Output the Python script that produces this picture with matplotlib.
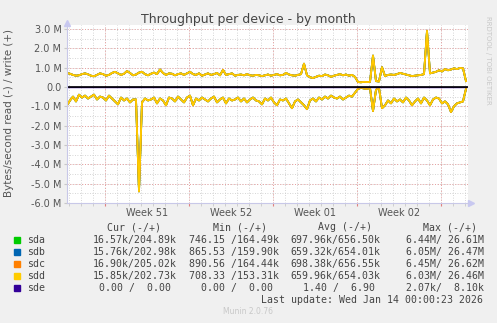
import numpy as np
import matplotlib
matplotlib.use("Agg")
from matplotlib import pyplot as plt
from matplotlib.patches import Rectangle

W, H = 497, 323

# samples every 6 hours (values in MB/s)
write_mb = [
    0.72, 0.68, 0.62, 0.58,  0.60, 0.66, 0.70, 0.65,  0.58, 0.55, 0.62, 0.70,
    0.66, 0.58, 0.62, 0.72,  0.78, 0.70, 0.62, 0.68,  0.82, 0.72, 0.60, 0.64,
    0.74, 0.78, 0.66, 0.60,  0.68, 0.74, 0.66, 0.90,  0.72, 0.62, 0.70, 0.68,
    0.60, 0.66, 0.70, 0.62,  0.70, 0.78, 0.66, 0.62,  0.70, 0.58, 0.64, 0.70,
    0.62, 0.66, 0.72, 0.60,  0.88, 0.62, 0.66, 0.70,  0.58, 0.62, 0.64, 0.60,
    0.66, 0.60, 0.58, 0.62,  0.60, 0.56, 0.60, 0.64,  0.58, 0.62, 0.66, 0.60,
    0.62, 0.72, 0.64, 0.60,  0.58, 0.62, 0.66, 1.20,  0.60, 0.50, 0.46, 0.52,
    0.58, 0.56, 0.64, 0.60,  0.52, 0.58, 0.62, 0.66,  0.60, 0.64, 0.58, 0.62,
    0.52, 0.25, 0.24, 0.26,  0.25, 0.26, 1.62, 0.30,  0.28, 1.02, 0.56, 0.62,
    0.64, 0.62, 0.66, 0.72,  0.68, 0.64, 0.60, 0.56,  0.58, 0.60, 0.62, 0.66,
    2.90, 0.70, 0.74, 0.78,  0.86, 0.80, 0.92, 0.86,  0.90, 0.96, 0.92, 0.98,
    0.96, 0.30,
]
read_mb = [
    -0.95, -0.70, -0.50, -0.75,  -0.40, -0.55, -0.45, -0.60,  -0.50, -0.40, -0.65, -0.50,
    -0.55, -0.70, -0.45, -0.60,  -0.75, -0.90, -0.55, -0.70,  -0.60, -0.80, -0.65, -0.65,
    -5.40, -0.80, -0.60, -0.70,  -0.65, -0.55, -0.85, -0.60,  -0.70, -0.95, -0.55, -0.60,
    -0.75, -0.50, -0.65, -0.80,  -0.55, -0.45, -0.95, -0.60,  -0.70, -0.55, -0.65, -0.75,
    -0.60, -0.50, -0.80, -0.65,  -0.55, -0.85, -0.60, -0.70,  -0.65, -0.55, -0.75, -0.60,
    -0.80, -0.65, -0.55, -0.70,  -0.75, -0.90, -0.60, -0.70,  -0.55, -0.80, -0.95, -0.65,
    -0.70, -0.60, -0.85, -1.10,  -0.75, -0.65, -0.80, -0.95,  -1.15, -0.70, -0.60, -0.75,
    -0.55, -0.65, -0.50, -0.60,  -0.45, -0.55, -0.60, -0.50,  -0.65, -0.55, -0.45, -0.50,
    -0.30, -0.10, -0.05, -0.08,  -0.10, -0.05, -1.25, -0.15,  -0.05, -1.10, -0.95, -0.70,
    -0.85, -0.60, -0.75, -0.65,  -0.80, -0.55, -0.70, -0.95,  -0.75, -0.60, -0.85, -0.55,
    -0.70, -0.95, -0.65, -0.55,  -0.60, -0.85, -0.75, -0.90,  -1.30, -1.00, -0.85, -0.80,
    -0.75, -0.10,
]
step_days = 0.25
days = np.arange(len(write_mb)) * step_days

devices = ["sda", "sdb", "sdc", "sdd", "sde"]
colors = ["#00CC00", "#0066B3", "#FF8000", "#FFCC00", "#330099"]
cur = ["16.57k/204.89k", "15.76k/202.98k", "16.90k/205.02k", "15.85k/202.73k", "0.00 /  0.00 "]
mins = ["746.15 /164.49k", "865.53 /159.90k", "890.56 /164.44k", "708.33 /153.31k", "0.00 /  0.00 "]
avgs = ["697.96k/656.50k", "659.32k/654.01k", "698.38k/656.55k", "659.96k/654.03k", "1.40 /  6.90 "]
maxs = ["6.44M/ 26.61M", "6.05M/ 26.47M", "6.45M/ 26.62M", "6.03M/ 26.46M", "2.07k/  8.10k"]

week_starts = [3.17, 10.17, 17.17, 24.17, 31.17]
week_labels = ["Week 51", "Week 52", "Week 01", "Week 02"]

fig = plt.figure(figsize=(W / 100, H / 100), dpi=100, facecolor="#F0F0F0")
def fx(px): return px / W
def fy(py): return 1 - py / H

ax = fig.add_axes([fx(67), fy(203), (468 - 67) / W, (203 - 25) / H])
ax.set_facecolor("white")
xmax = 401 / 12
ax.set_xlim(0, xmax)
ax.set_ylim(-6.0, 3.2)

# grid
day_lines = np.arange(0, xmax, 1.0) + (week_starts[0] % 1)
for d in day_lines:
    ax.axvline(d, color="#C8C8C8", lw=0.6, ls=(0, (1, 2)), zorder=0)
for v in np.arange(-5.5, 3.1, 0.5):
    ax.axhline(v, color="#C8C8C8", lw=0.6, ls=(0, (1, 2)), zorder=0)
for d in week_starts:
    ax.axvline(d, color="#E8A0A0", lw=0.7, ls=(0, (1, 2)), zorder=0)
for v in range(-6, 4):
    ax.axhline(v, color="#E8A0A0", lw=0.7, ls=(0, (1, 2)), zorder=0)

for name, c in zip(devices, colors):
    if name == "sde":
        ax.plot(days, np.zeros_like(days), color=c, lw=1.0)
    else:
        ax.plot(days, write_mb, color=c, lw=1.3)
        ax.plot(days, read_mb, color=c, lw=1.3)
ax.axhline(0, color="black", lw=1.2)

for s in ["top", "right"]:
    ax.spines[s].set_visible(False)
for s in ["left", "bottom"]:
    ax.spines[s].set_color("#C8C8E8")
    ax.spines[s].set_linewidth(0.8)
# axis arrows
ax.plot([0], [3.3], marker="^", ms=4, color="#C8C8F0", clip_on=False)
ax.plot([xmax + 0.25], [-6.0], marker=">", ms=4, color="#C8C8F0", clip_on=False)

yt = list(range(-6, 4))
ax.set_yticks(yt)
ax.set_yticklabels(["%.1f M" % v if v != 0 else "0.0" for v in yt])
ax.set_xticks(week_starts)
ax.set_xticklabels([])
ax.set_xticks(day_lines, minor=True)
ax.tick_params(axis="both", which="both", labelsize=7, labelcolor="#555555", length=2,
               color="#C8C8C8", pad=2)
ax.tick_params(axis="x", which="major", color="#E08080")
for lbl, a, b in zip(week_labels, week_starts[:-1], week_starts[1:]):
    ax.text((a + b) / 2, -6.25, lbl, ha="center", va="top", fontsize=7,
            color="#555555")

fig.text(fx(248), fy(19), "Throughput per device - by month", ha="center", va="center",
         fontsize=9, color="#444444")
fig.text(fx(9), fy(113), "Bytes/second read (-) / write (+)", rotation=90,
         ha="center", va="center", fontsize=7.5, color="#555555")
fig.text(fx(488), fy(60), "RRDTOOL / TOBI OETIKER", rotation=270, ha="center",
         va="center", fontsize=5, color="#C8C8C8")

mono = "DejaVu Sans Mono"
fs = 7.1
cw = 5.95
for hdr, px in zip(["Cur (-/+)", "Min (-/+)", "Avg (-/+)", "Max (-/+)"], [107, 213, 318, 423]):
    fig.text(fx(px), fy(227), hdr, ha="left", va="center", fontsize=fs,
             family=mono, color="#444444")

right_edges = [176, 278, 380, 483]
for i, name in enumerate(devices):
    py = 240 + 12 * i
    fig.patches.append(Rectangle((fx(14), fy(py + 3)), 6 / W, 6 / H,
                                 transform=fig.transFigure, color=colors[i]))
    fig.text(fx(27), fy(py), name, ha="left", va="center", fontsize=fs,
             family=mono, color="#444444")
    for col, r in zip([cur, mins, avgs, maxs], right_edges):
        s = col[i]
        fig.text(fx(r - len(s) * cw), fy(py), s, ha="left", va="center",
                 fontsize=fs, family=mono, color="#444444")

fig.text(fx(483), fy(300), "Last update: Wed Jan 14 00:00:23 2026", ha="right",
         va="center", fontsize=fs, family=mono, color="#444444")
fig.text(fx(248), fy(312), "Munin 2.0.76", ha="center", va="center", fontsize=5.5,
         color="#C8C8C8")

fig.savefig("out.png", dpi=100, facecolor=fig.get_facecolor())
